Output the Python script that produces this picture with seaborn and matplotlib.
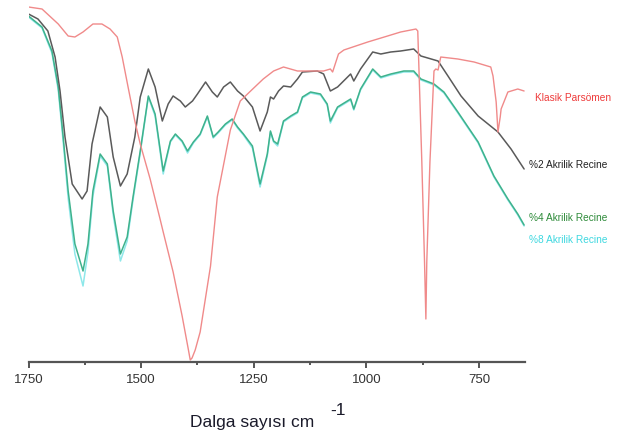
import matplotlib
matplotlib.use("Agg")
import matplotlib.pyplot as plt
import seaborn as sns
import numpy as np
import pandas as pd

sns.set_style("white")
plt.rcParams['font.family'] = ['Liberation Sans', 'DejaVu Sans']

# Klasik Parsömen (red)
red_wn = [1750, 1720, 1684, 1662, 1647, 1629, 1607, 1587, 1569, 1553, 1542, 1529, 1514, 1502,
          1480, 1469, 1458, 1451, 1429, 1409, 1395, 1391, 1387, 1380, 1369, 1346, 1331, 1302,
          1280, 1257, 1229, 1206, 1184, 1153, 1131, 1095, 1080, 1075, 1062, 1050, 997, 953,
          924, 890, 886, 877, 871, 868, 866, 859, 850, 846, 841, 835, 797, 761, 724, 719,
          712, 708, 703, 701, 686, 664, 650]
red_v = [355, 353, 338, 326, 325, 330, 338, 338, 333, 325, 305, 275, 241, 218,
         183, 163, 143, 130, 90, 46, 12, 2, 4, 12, 30, 96, 165, 232,
         261, 271, 283, 291, 295, 291, 291, 291, 293, 290, 308, 312, 320, 326,
         330, 333, 331, 200, 100, 43, 100, 200, 291, 293, 292, 305, 303, 300, 295, 286,
         260, 230, 245, 253, 270, 273, 271]

# %2 Akrilik Recine (dark grey)
blk_wn = [1750, 1729, 1707, 1691, 1680, 1669, 1653, 1631, 1620, 1609, 1591, 1575, 1562, 1546,
          1531, 1514, 1502, 1484, 1469, 1453, 1440, 1429, 1413, 1402, 1386, 1375, 1357, 1342,
          1331, 1317, 1302, 1286, 1273, 1253, 1236, 1220, 1213, 1206, 1195, 1184, 1168, 1153,
          1142, 1109, 1095, 1080, 1064, 1035, 1028, 1013, 986, 968, 946, 924, 895, 879, 841,
          819, 790, 752, 708, 679, 650]
blk_v = [348, 343, 331, 305, 271, 225, 178, 163, 171, 218, 255, 245, 205, 176,
         188, 225, 265, 293, 275, 241, 258, 266, 261, 255, 261, 268, 280, 270,
         265, 275, 280, 271, 266, 255, 231, 250, 265, 263, 271, 276, 275, 283,
         290, 291, 288, 271, 275, 288, 281, 293, 310, 308, 310, 311, 313, 306, 301,
         286, 266, 246, 230, 213, 193]

# %4 Akrilik Recine (green)
grn_wn = [1750, 1720, 1698, 1684, 1673, 1662, 1647, 1629, 1618, 1607, 1591, 1575, 1562, 1546,
          1531, 1518, 1502, 1484, 1469, 1451, 1435, 1424, 1409, 1397, 1384, 1369, 1353, 1340,
          1329, 1313, 1298, 1286, 1273, 1253, 1236, 1220, 1213, 1206, 1197, 1184, 1168, 1153,
          1142, 1124, 1102, 1087, 1080, 1064, 1035, 1028, 1013, 986, 968, 946, 917, 895, 879,
          850, 828, 797, 752, 717, 686, 664, 650]
grn_v = [346, 335, 311, 275, 225, 171, 118, 91, 118, 171, 208, 198, 151, 108,
         125, 165, 211, 266, 248, 191, 221, 228, 221, 211, 220, 228, 246, 225,
         230, 238, 243, 235, 228, 216, 178, 208, 231, 221, 218, 241, 246, 250,
         265, 270, 268, 258, 241, 255, 263, 253, 273, 293, 285, 288, 291, 291, 283,
         278, 270, 250, 220, 186, 163, 148, 137]

# %8 Akrilik Recine (cyan)
cyn_wn = [1750, 1720, 1698, 1684, 1673, 1662, 1647, 1629, 1618, 1607, 1591, 1575, 1562, 1546,
          1531, 1518, 1502, 1484, 1469, 1451, 1435, 1424, 1409, 1397, 1384, 1369, 1353, 1340,
          1329, 1313, 1298, 1286, 1273, 1253, 1236, 1220, 1213, 1206, 1197, 1184, 1168, 1153,
          1142, 1124, 1102, 1087, 1080, 1064, 1035, 1028, 1013, 986, 968, 946, 917, 895, 879,
          850, 828, 797, 752, 717, 686, 664, 650]
cyn_v = [345, 334, 309, 272, 220, 164, 108, 76, 110, 166, 206, 196, 147, 101,
         121, 162, 209, 265, 246, 188, 220, 227, 220, 209, 219, 227, 245, 224,
         229, 237, 242, 234, 227, 214, 175, 206, 230, 220, 216, 240, 245, 249,
         264, 269, 267, 257, 239, 254, 262, 252, 272, 292, 284, 287, 290, 290, 282,
         277, 269, 249, 219, 185, 162, 147, 136]

labels = ["Klasik Parsömen", "%2 Akrilik Recine", "%4 Akrilik Recine", "%8 Akrilik Recine"]
major_ticks = [1750, 1500, 1250, 1000, 750]
minor_ticks = [1625, 1375, 1125, 875]

W, H = 622, 439
fig = plt.figure(figsize=(W / 100, H / 100), dpi=100)
ax = fig.add_axes([28.5 / W, 76 / H, (525 - 28.5) / W, 363 / H])

sns.lineplot(x=cyn_wn, y=cyn_v, color="#8ee8ea", lw=1.1, ax=ax, sort=False)
sns.lineplot(x=grn_wn, y=grn_v, color="#3fb28c", lw=1.1, ax=ax, sort=False)
sns.lineplot(x=blk_wn, y=blk_v, color="#5a5a5a", lw=1.1, ax=ax, sort=False)
sns.lineplot(x=red_wn, y=red_v, color="#f08a8a", lw=1.0, ax=ax, sort=False)

ax.set_xlim(1750, 648)
ax.set_ylim(0, 363)
for s in ["top", "right", "left"]:
    ax.spines[s].set_visible(False)
ax.spines["bottom"].set_color("#555555")
ax.spines["bottom"].set_linewidth(1.6)
ax.set_yticks([])
ax.set_xticks(major_ticks)
ax.set_xticklabels([str(t) for t in major_ticks])
ax.set_xticks(minor_ticks, minor=True)
ax.tick_params(axis="x", which="major", direction="out", length=4, width=1.4,
               color="#555555", labelsize=9.5, labelcolor="#333333", pad=4, bottom=True)
ax.tick_params(axis="x", which="minor", direction="out", length=2, width=1.4,
               color="#555555", bottom=True)
ax.set_xlabel("")
ax.set_ylabel("")
ax.patch.set_alpha(0)

fig.text(190 / W, 1 - 423 / H, "Dalga sayısı cm", fontsize=12.5, color="#1a1a2a",
         ha="left", va="center")
fig.text(330 / W, 1 - 411 / H, "-1", fontsize=12.5, color="#1a1a2a", ha="left", va="center")

label_colors = ["#ee3b3b", "#222222", "#2e8b3a", "#3fd8e0"]
label_y = [98, 165, 218, 240]
label_x = [535, 529, 529, 529]
for txt, c, yy, xx in zip(labels, label_colors, label_y, label_x):
    fig.text(xx / W, 1 - yy / H, txt, fontsize=7.3, color=c, ha="left", va="center")

fig.savefig("out.png", dpi=100)
